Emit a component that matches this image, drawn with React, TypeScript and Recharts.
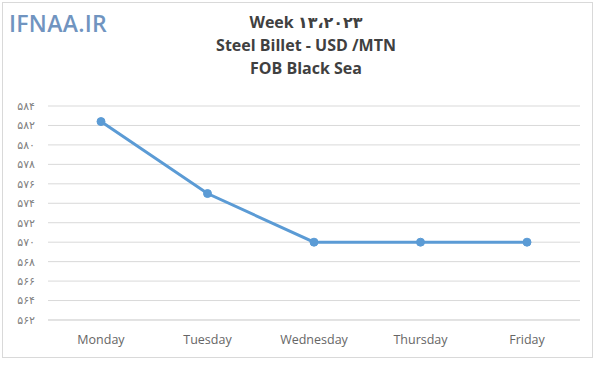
import { LineChart, Line, XAxis, YAxis, CartesianGrid } from "recharts";

const days = ["Monday", "Tuesday", "Wednesday", "Thursday", "Friday"];
const prices = [582.4, 575, 570, 570, 570];
const yTicks = [562, 564, 566, 568, 570, 572, 574, 576, 578, 580, 582, 584];
const titleLines = ["Week ۱۳،۲۰۲۳", "Steel Billet - USD /MTN", "FOB Black Sea"];

const data = days.map((d, i) => ({ day: d, price: prices[i] }));

const toPersian = (n: number) =>
  String(n).replace(/\d/g, (c) => "۰۱۲۳۴۵۶۷۸۹"[Number(c)]);

export default function App() {
  return (
    <div style={{ position: "absolute", left: 0, top: 0, width: 600, height: 365, background: "#fff", fontFamily: "Lato, 'DejaVu Sans', sans-serif" }}>
      <div style={{ position: "absolute", left: 2, top: 2, width: 591, height: 356, border: "1px solid #d9d9d9", boxSizing: "border-box" }} />
      <div
        style={{
          position: "absolute",
          left: 9,
          top: 7,
          fontSize: 23,
          fontWeight: 600,
          color: "#7094c0",
          letterSpacing: 0.3,
          fontFamily: "'Open Sans', sans-serif",
        }}
      >
        IFNAA.IR
      </div>
      <div style={{ position: "absolute", left: 0, top: 11, width: 612, textAlign: "center", color: "#404040", fontWeight: 700, fontSize: 16, lineHeight: "23px", fontFamily: "'Open Sans', 'DejaVu Sans', sans-serif" }}>
        {titleLines.map((t) => (
          <div key={t}>{t}</div>
        ))}
      </div>
      <div style={{ position: "absolute", left: 0, top: 0 }}>
        <LineChart width={600} height={365} data={data} margin={{ top: 106, right: 20, bottom: 0, left: 0 }}>
          <CartesianGrid horizontal vertical={false} stroke="#d9d9d9" strokeDasharray="0" />
          <XAxis
            dataKey="day"
            axisLine={{ stroke: "#d9d9d9" }}
            tickLine={false}
            height={45}
            padding={{ left: 53, right: 53 }}
            tick={{ fill: "#666666", fontSize: 12.5, fontFamily: "'Open Sans', sans-serif" }}
            dy={7}
          />
          <YAxis
            domain={[562, 584]}
            ticks={yTicks}
            width={48}
            axisLine={false}
            tickLine={false}
            tickFormatter={toPersian}
            tick={{ fill: "#7f7f7f", fontSize: 11 }}
            dx={-5}
            interval={0}
          />
          <Line
            type="linear"
            dataKey="price"
            stroke="#5b9bd5"
            strokeWidth={3}
            dot={{ r: 4, fill: "#5b9bd5", stroke: "#5b9bd5", strokeWidth: 1 }}
            isAnimationActive={false}
          />
        </LineChart>
      </div>
    </div>
  );
}
